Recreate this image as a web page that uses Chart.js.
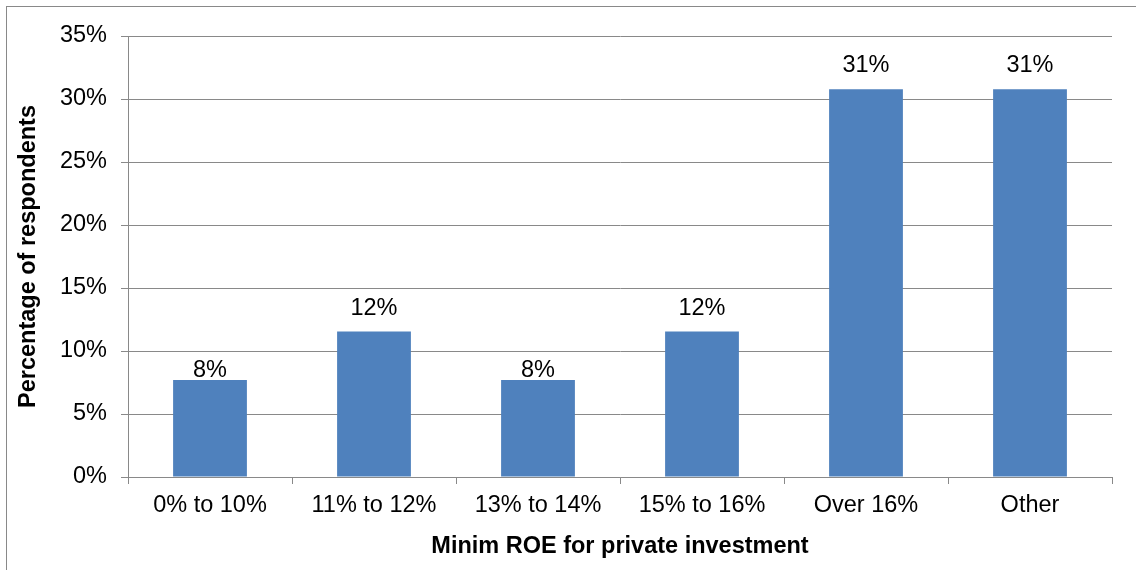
<!DOCTYPE html>
<html>
<head>
<meta charset="utf-8">
<script src="https://cdn.jsdelivr.net/npm/chart.js@4/dist/chart.umd.min.js"></script>
<style>
  html, body { margin: 0; padding: 0; background: #fff; }
  #wrap { width: 1136px; height: 570px; position: relative; }
</style>
</head>
<body>
<div id="wrap"><canvas id="c" width="1136" height="570"></canvas></div>
<script>
const categories = ["0% to 10%", "11% to 12%", "13% to 14%", "15% to 16%", "Over 16%", "Other"];
const respondentShare = [7.69, 11.54, 7.69, 11.54, 30.77, 30.77];
const yTickValues = [0, 5, 10, 15, 20, 25, 30, 35];
const xAxisTitle = "Minim ROE for private investment";
const yAxisTitle = "Percentage of respondents";

const FONT = "'Liberation Sans', Arial, sans-serif";
const FSIZE = 23.5;
const GRID = "#898989";

const labelLift = [3, 17, 3, 17, 17, 17];

const framePlugin = {
  id: 'frame',
  beforeDraw(chart) {
    const ctx = chart.ctx;
    ctx.save();
    ctx.fillStyle = '#fff';
    ctx.fillRect(0, 0, chart.width, chart.height);
    ctx.strokeStyle = GRID;
    ctx.lineWidth = 1;
    ctx.strokeRect(6.5, 6.5, 1300, 700);
    ctx.restore();
  }
};

const valueLabels = {
  id: 'valueLabels',
  afterDatasetsDraw(chart) {
    const ctx = chart.ctx;
    const meta = chart.getDatasetMeta(0);
    ctx.save();
    ctx.font = FSIZE + "px " + FONT;
    ctx.fillStyle = '#000';
    ctx.textAlign = 'center';
    ctx.textBaseline = 'alphabetic';
    meta.data.forEach((bar, i) => {
      const v = chart.data.datasets[0].data[i];
      ctx.fillText(Math.round(v) + '%', bar.x, bar.y - labelLift[i]);
    });
    ctx.restore();
  }
};

new Chart(document.getElementById('c'), {
  type: 'bar',
  data: {
    labels: categories,
    datasets: [{
      data: respondentShare,
      backgroundColor: '#4F81BD',
      borderWidth: 0,
      categoryPercentage: 1,
      barPercentage: 0.45
    }]
  },
  options: {
    responsive: false,
    animation: false,
    devicePixelRatio: 1,
    layout: { padding: { left: 0, top: 36, right: 24, bottom: 0 } },
    plugins: { legend: { display: false }, tooltip: { enabled: false } },
    scales: {
      x: {
        grid: { display: true, drawOnChartArea: false, drawTicks: true, tickLength: 7, color: GRID, offset: true },
        border: { display: true, color: GRID, width: 1 },
        ticks: { color: '#000', font: { family: FONT, size: FSIZE }, padding: 7, maxRotation: 0, autoSkip: false },
        title: { display: true, text: xAxisTitle, color: '#000', font: { family: FONT, size: FSIZE, weight: 'bold' }, padding: { top: 0, bottom: 9 } },
        afterFit(scale) { scale.height = 93; }
      },
      y: {
        min: 0,
        max: 35,
        afterBuildTicks(scale) { scale.ticks = yTickValues.map(v => ({ value: v })); },
        grid: { color: GRID, tickLength: 7, drawTicks: true },
        border: { display: true, color: GRID, width: 1 },
        ticks: { color: '#000', font: { family: FONT, size: FSIZE }, padding: 14, callback: v => v + '%' },
        title: { display: true, text: yAxisTitle, color: '#000', font: { family: FONT, size: FSIZE, weight: 'bold' }, padding: { top: 14, bottom: 0 } },
        afterFit(scale) { scale.width = 128; }
      }
    }
  },
  plugins: [framePlugin, valueLabels]
});
</script>
</body>
</html>
